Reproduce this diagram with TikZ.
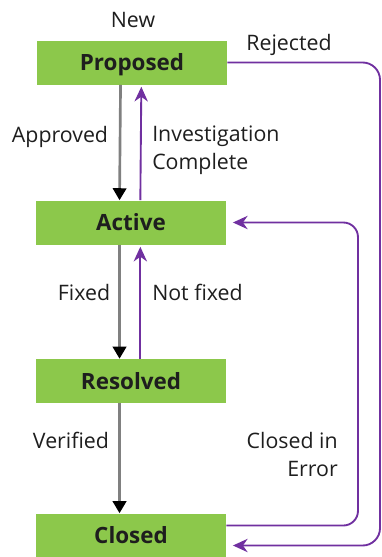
\documentclass[tikz,border=0pt]{standalone}
\usepackage{fontspec}
\setmainfont{Open Sans}
\usepackage{xcolor}
\usepackage{tikz}
\usetikzlibrary{arrows.meta}
\definecolor{etatvert}{HTML}{8CC84B}
\definecolor{retourviolet}{HTML}{7030A0}
\definecolor{texte}{HTML}{1E1E1E}

\begin{document}
\begin{tikzpicture}[x=0.75pt,y=-0.75pt,
  etat/.style={fill=etatvert,minimum width=142.5pt,minimum height=33pt,inner sep=0pt,
    text height=13.5pt,text depth=1.5pt,text=texte,font=\bfseries\fontsize{16.8}{20}\selectfont},
  lbl/.style={inner sep=0pt,text=texte,font=\fontsize{16}{20.3}\selectfont},
  avance/.style={draw=gray,line width=2pt,-{Triangle[length=9pt,width=10pt,color=black]}},
  retour/.style={draw=retourviolet,line width=1.4pt,-{Stealth[length=11pt,width=10pt,inset=3.5pt]}}]
  \useasboundingbox (0,0) rectangle (382,557);
  % les etats
  \node[etat] (proposed) at (132,62.5) {Proposed};
  \node[etat] (active) at (131,222.5) {Active};
  \node[etat] (resolved) at (131,381) {Resolved};
  \node[etat] (closed) at (131,535.5) {Closed};
  % coins des boucles a droite
  \coordinate (coinext) at (380,0);
  \coordinate (coinint) at (358,0);
  % transitions vers le bas
  \draw[avance] ([xshift=-8.6pt]proposed.south) -- ([xshift=-8.6pt]active.north);
  \draw[avance] ([xshift=-8.6pt]active.south) -- ([xshift=-8.6pt]resolved.north);
  \draw[avance] ([xshift=-8.6pt]resolved.south) -- ([xshift=-8.6pt]closed.north);
  % retours
  \draw[retour,shorten >=1.5pt] ([xshift=7pt]active.north) -- ([xshift=7pt]proposed.south);
  \draw[retour,shorten >=1.5pt] ([xshift=7pt]resolved.north) -- ([xshift=7pt]active.south);
  \draw[retour,rounded corners=13pt,shorten >=5pt] (proposed.east) -- (proposed.east -| coinext)
        -- ([yshift=-7.5pt]closed.east -| coinext) -- ([yshift=-7.5pt]closed.east);
  \draw[retour,rounded corners=11pt,shorten >=5pt] ([yshift=7.5pt]closed.east)
        -- ([yshift=7.5pt]closed.east -| coinint) -- (active.east -| coinint) -- (active.east);
  % etiquettes
  \node[lbl,anchor=base] (new) at (133,27) {New};
  \node[lbl,anchor=base] (rejected) at (289,50) {Rejected};
  \node[lbl,anchor=base] (approved) at (60,142) {Approved};
  \node[lbl,anchor=base west,align=left] (investigation) at (152,169) {Investigation\\Complete};
  \node[lbl,anchor=base] (fixed) at (84,300) {Fixed};
  \node[lbl,anchor=base west] (notfixed) at (152,300) {Not fixed};
  \node[lbl,anchor=base] (verified) at (71,448) {Verified};
  \node[lbl,anchor=base east,align=right] (closederror) at (338,476) {Closed in\\Error};
\end{tikzpicture}
\end{document}
